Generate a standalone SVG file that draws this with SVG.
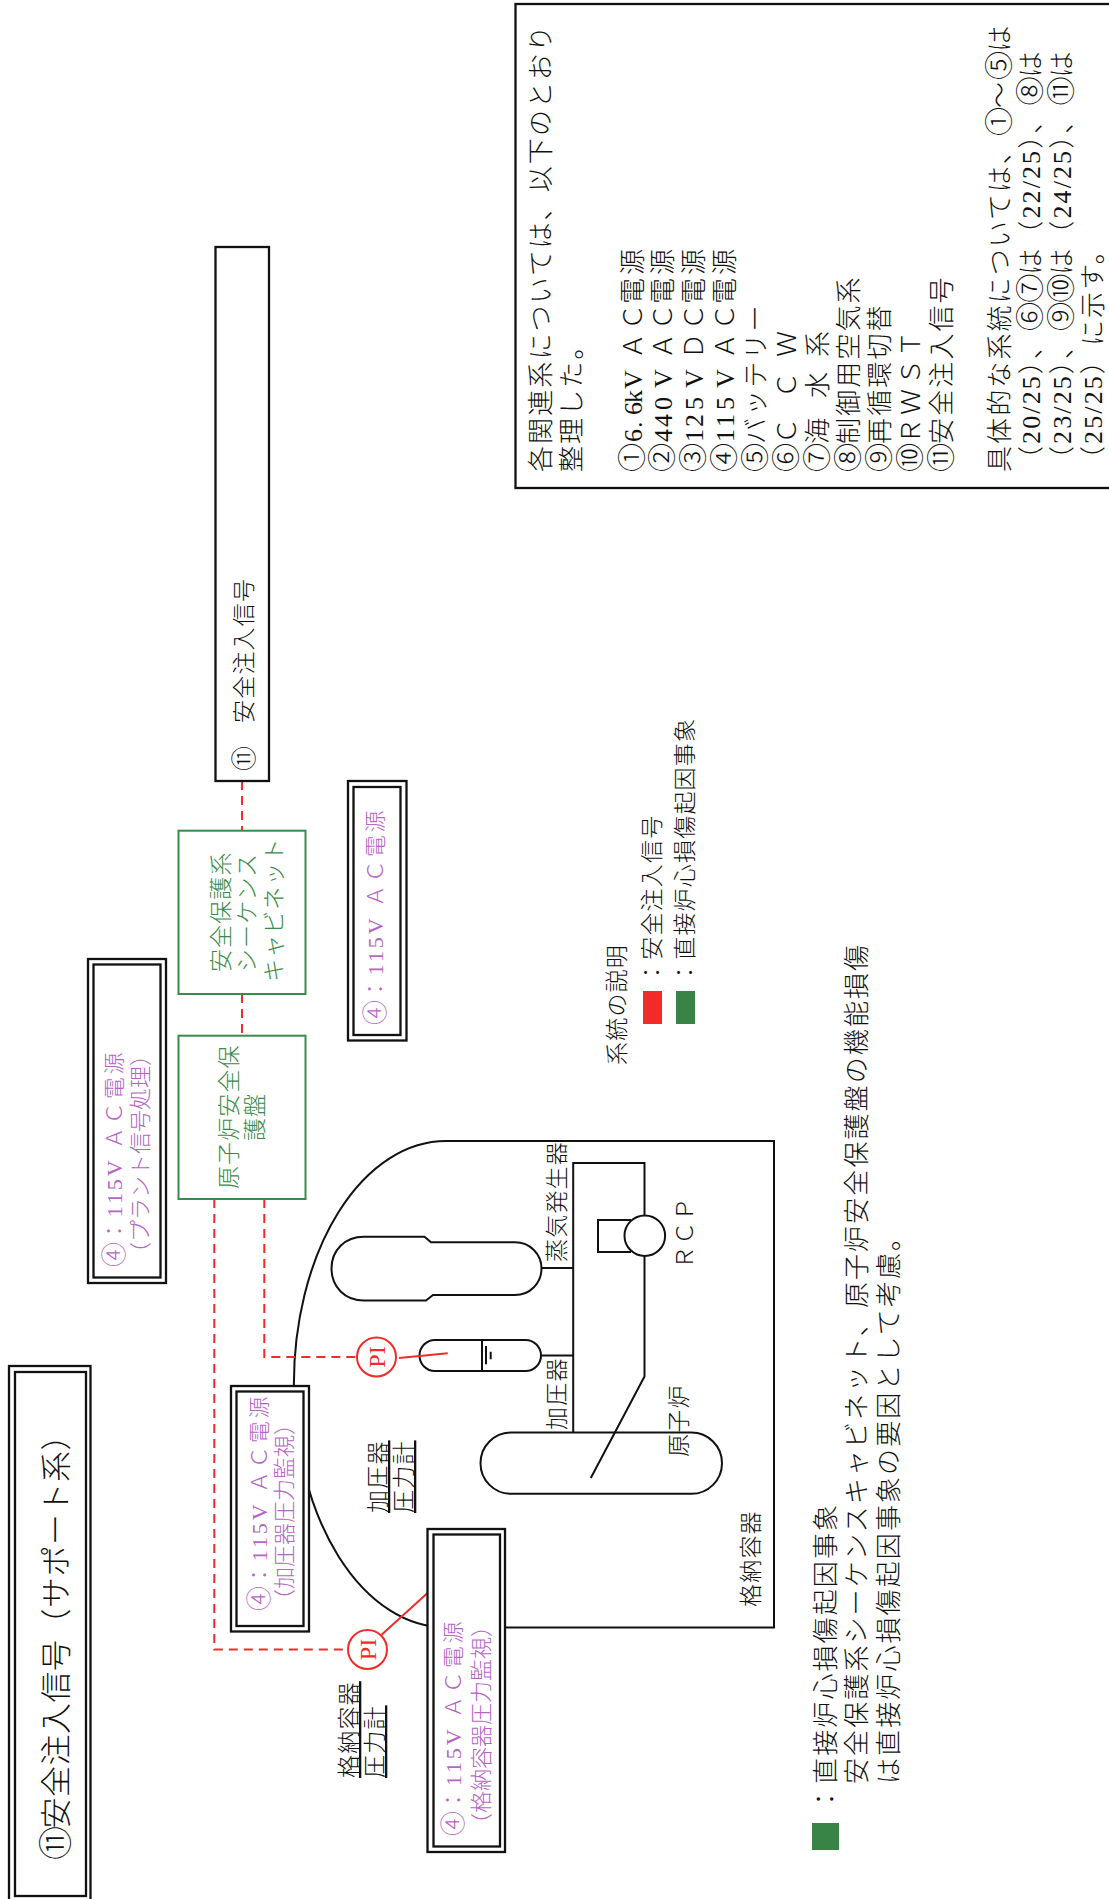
<svg xmlns="http://www.w3.org/2000/svg" width="1109" height="1899" viewBox="0 0 1109 1899">
<style>
text{font-family:"Liberation Serif","Noto Sans CJK JP",sans-serif;fill:#111;font-weight:300}
.n{font-family:"Liberation Serif",serif;font-weight:400}
.t26{font-size:26px;letter-spacing:2.1px}
.t22{font-size:23px;letter-spacing:1.2px}
.g{font-size:23px;letter-spacing:1.1px;fill:#3a8a4a}
.p1{font-size:22px;letter-spacing:2.9px;fill:#b565c4}
.p2{font-size:22px;fill:#b565c4}
.pi{font-size:24px;fill:#f22a28;text-anchor:middle;font-family:"Liberation Serif",serif;font-weight:400}
.c1{font-size:29px;letter-spacing:-.9px;baseline-shift:-1px}
.c2{font-size:25px;letter-spacing:-.1px;baseline-shift:-1px}
.box{fill:#fff;stroke:#111;stroke-width:2.3}
.gbox{fill:#fff;stroke:#3a8a4a;stroke-width:2}
.line{fill:none;stroke:#111;stroke-width:2}
.dash{fill:none;stroke:#f22a28;stroke-width:2;stroke-dasharray:9 6}
.red{fill:none;stroke:#f22a28;stroke-width:2}
.circ{fill:#fff;stroke:#f22a28;stroke-width:2}
</style>
<rect width="1109" height="1899" fill="#fff"/>

<g id="plant">
<path class="line" d="M505 1627.4H774V1141H446A152 243 0 0 0 446 1627.4"/>
<path class="line" d="M331.5 1268.5C331.5 1250 345 1236.7 364 1236.7H424.5L431 1242.3H515C530 1242.3 541.5 1254 541.5 1268.5C541.5 1283 530 1295 515 1295H433L426 1300.5H364C345 1300.5 331.5 1287 331.5 1268.5Z"/>
<rect class="line" x="419.5" y="1340" width="121.5" height="31" rx="15.5"/>
<path class="line" d="M482 1340V1371M486 1346V1364.3M490.7 1351.7V1359.3"/>
<path class="line" d="M541 1355.5H573M541.5 1268H573"/>
<rect class="line" x="480.5" y="1432.6" width="241.5" height="61.2" rx="30.6"/>
<path class="line" d="M573.2 1432.6V1163H644.5V1215.5M644.5 1256V1376.4L590.8 1478"/>
<circle class="line" cx="644.8" cy="1235.7" r="20.3"/>
<path class="line" d="M631 1220H598V1252H631"/>
<text class="t22" transform="translate(565,1262) rotate(-90)">蒸気発生器</text>
<text class="t22" transform="translate(693,1269) rotate(-90)">ＲＣＰ</text>
<text class="t22" transform="translate(687,1457) rotate(-90)">原子炉</text>
<text class="t22" transform="translate(564.5,1430) rotate(-90)">加圧器</text>
<text class="t22" transform="translate(759,1607) rotate(-90)">格納容器</text>
</g>

<g id="connectors">
<path class="dash" d="M242 781V831M242 994V1036M264.3 1199V1357H357M214.3 1199V1649.5H348"/>
<path class="red" d="M399 1358L447.7 1353.3M381.6 1634.7L427.5 1593"/>
</g>

<g id="signal-box">
<rect class="box" x="215.5" y="247" width="53.5" height="534"/>
<text class="t22" transform="translate(252,771) rotate(-90)"><tspan class="c2">⑪</tspan></text>
<text class="t22" transform="translate(252,723) rotate(-90)">安全注入信号</text>
</g>

<g id="sequence-cabinet">
<rect class="gbox" x="178.5" y="830.7" width="127" height="163.3"/>
<text class="g" transform="translate(229,972) rotate(-90)">安全保護系</text>
<text class="g" transform="translate(255,972) rotate(-90)">シーケンス</text>
<text class="g" transform="translate(282,982) rotate(-90)">キャビネット</text>
</g>

<g id="protection-panel">
<rect class="gbox" x="178.5" y="1035.7" width="127" height="163.3"/>
<text class="g" transform="translate(237,1189) rotate(-90)">原子炉安全保</text>
<text class="g" transform="translate(263,1141) rotate(-90)">護盤</text>
</g>

<g id="power-plant-signal">
<rect class="box" x="88" y="959" width="78" height="324"/>
<rect class="box" x="93.5" y="964.5" width="67" height="313"/>
<text class="p1" transform="translate(122,1267) rotate(-90)"><tspan class="c2">④</tspan>：<tspan class="n">115V</tspan> ＡＣ電源</text>
<text class="p2" transform="translate(148,1264) rotate(-90)">（プラント信号処理）</text>
</g>

<g id="power-cabinet">
<rect class="box" x="348" y="781" width="58.5" height="259.5"/>
<rect class="box" x="353.5" y="787" width="47" height="248"/>
<text class="p1" transform="translate(383,1025) rotate(-90)"><tspan class="c2">④</tspan>：<tspan class="n">115V</tspan> ＡＣ電源</text>
</g>

<g id="power-pressurizer">
<rect class="box" x="231" y="1386" width="78" height="245.5"/>
<rect class="box" x="236.5" y="1391.5" width="67" height="234.5"/>
<text class="p1" transform="translate(266.5,1611) rotate(-90)"><tspan class="c2">④</tspan>：<tspan class="n">115V</tspan> ＡＣ電源</text>
<text class="p2" transform="translate(291.5,1611) rotate(-90)">（加圧器圧力監視）</text>
</g>

<g id="power-containment">
<rect class="box" x="427.5" y="1529" width="77.5" height="323"/>
<rect class="box" x="433.5" y="1534.5" width="66.5" height="312"/>
<text class="p1" transform="translate(460.5,1836) rotate(-90)"><tspan class="c2">④</tspan>：<tspan class="n">115V</tspan> ＡＣ電源</text>
<text class="p2" transform="translate(488.5,1835) rotate(-90)">（格納容器圧力監視）</text>
</g>

<g id="pi-pressurizer">
<circle class="circ" cx="376.5" cy="1357" r="19.5"/>
<text class="pi" transform="translate(384.5,1357) rotate(-90)">PI</text>
</g>
<g id="pi-containment">
<circle class="circ" cx="367.5" cy="1649.5" r="19.5"/>
<text class="pi" transform="translate(375.5,1649.5) rotate(-90)">PI</text>
</g>

<g id="pi-labels">
<text class="t22" text-decoration="underline" transform="translate(386,1513) rotate(-90)">加圧器</text>
<text class="t22" text-decoration="underline" transform="translate(412,1513) rotate(-90)">圧力計</text>
<text class="t22" text-decoration="underline" transform="translate(357,1778) rotate(-90)">格納容器</text>
<text class="t22" text-decoration="underline" transform="translate(383,1778) rotate(-90)">圧力計</text>
</g>

<g id="title">
<rect class="box" x="9" y="1366" width="81.5" height="540"/>
<rect class="box" x="15" y="1372" width="71" height="524"/>
<text style="font-size:31px;letter-spacing:.5px" transform="translate(67,1860) rotate(-90)"><tspan style="font-size:34px;letter-spacing:-2.5px;baseline-shift:-1px">⑪</tspan>安全注入信号（サポート系）</text>
</g>

<g id="system-legend">
<text class="t22" transform="translate(625,1065) rotate(-90)">系統の説明</text>
<rect x="643" y="991" width="19" height="33" fill="#f22a28"/>
<rect x="676" y="991" width="19" height="33" fill="#388447"/>
<text class="t22" transform="translate(660,984) rotate(-90)">：安全注入信号</text>
<text class="t22" transform="translate(693,984) rotate(-90)">：直接炉心損傷起因事象</text>
</g>

<g id="note">
<rect x="812" y="1823" width="27" height="27" fill="#388447"/>
<text class="t26" transform="translate(835,1812) rotate(-90)">：直接炉心損傷起因事象</text>
<text class="t26" transform="translate(866,1784) rotate(-90)">安全保護系シーケンスキャビネット、原子炉安全保護盤の機能損傷</text>
<text class="t26" transform="translate(898,1784) rotate(-90)">は直接炉心損傷起因事象の要因として考慮。</text>
</g>

<g id="system-list">
<rect class="box" x="515.5" y="4" width="610" height="484"/>
<text class="t26" transform="translate(550,472) rotate(-90)">各関連系については、以下のとおり</text>
<text class="t26" transform="translate(581,472) rotate(-90)">整理した。</text>
<text class="t26" style="letter-spacing:0" x="0 30 44 57 69 83 100 113 142 168 197" transform="translate(641.5,472) rotate(-90)"><tspan class="c1" style="letter-spacing:0">①</tspan><tspan class="n">6.6kV </tspan>ＡＣ電源</text>
<text class="t26" style="letter-spacing:0" x="0 30 45 62 84 100 113 142 168 197" transform="translate(672.4,472) rotate(-90)"><tspan class="c1" style="letter-spacing:0">②</tspan><tspan class="n">440V </tspan>ＡＣ電源</text>
<text class="t26" style="letter-spacing:0" x="0 30 45 62 84 100 113 142 168 197" transform="translate(703.3,472) rotate(-90)"><tspan class="c1" style="letter-spacing:0">③</tspan><tspan class="n">125V </tspan>ＤＣ電源</text>
<text class="t26" style="letter-spacing:0" x="0 30 45 62 84 100 113 142 168 197" transform="translate(734.2,472) rotate(-90)"><tspan class="c1" style="letter-spacing:0">④</tspan><tspan class="n">115V </tspan>ＡＣ電源</text>
<text class="t26" transform="translate(765.1,472) rotate(-90)"><tspan class="c1">⑤</tspan>バッテリー</text>
<text class="t26" style="letter-spacing:0" x="0 28 50 74 95 115" transform="translate(796,472) rotate(-90)"><tspan class="c1" style="letter-spacing:0">⑥</tspan>Ｃ　Ｃ　Ｗ</text>
<text class="t26" style="letter-spacing:0" x="0 28 50 74 95 115" transform="translate(826.9,472) rotate(-90)"><tspan class="c1" style="letter-spacing:0">⑦</tspan>海　水　系</text>
<text class="t26" transform="translate(857.8,472) rotate(-90)"><tspan class="c1">⑧</tspan>制御用空気系</text>
<text class="t26" transform="translate(888.7,472) rotate(-90)"><tspan class="c1">⑨</tspan>再循環切替</text>
<text class="t26" style="letter-spacing:0" x="0 28 57 87 115" transform="translate(919.6,472) rotate(-90)"><tspan class="c1" style="letter-spacing:0">⑩</tspan>ＲＷＳＴ</text>
<text class="t26" transform="translate(950.5,472) rotate(-90)"><tspan class="c1">⑪</tspan>安全注入信号</text>
<text class="t26" transform="translate(1008.5,472) rotate(-90)">具体的な系統については、<tspan class="c1">①</tspan>～<tspan class="c1">⑤</tspan>は</text>
<text class="t26" transform="translate(1040,472) rotate(-90)">（<tspan class="n">20/25</tspan>）、<tspan class="c1">⑥⑦</tspan>は（<tspan class="n">22/25</tspan>）、<tspan class="c1">⑧</tspan>は</text>
<text class="t26" transform="translate(1071,472) rotate(-90)">（<tspan class="n">23/25</tspan>）、<tspan class="c1">⑨⑩</tspan>は（<tspan class="n">24/25</tspan>）、<tspan class="c1">⑪</tspan>は</text>
<text class="t26" transform="translate(1102,472) rotate(-90)">（<tspan class="n">25/25</tspan>）に示す。</text>
</g>
</svg>
